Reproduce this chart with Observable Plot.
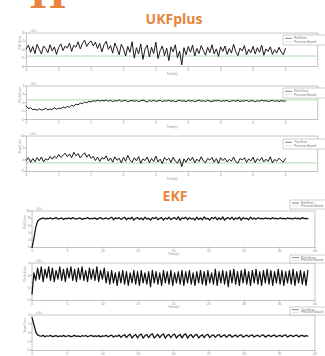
<!DOCTYPE html>
<html><head><meta charset="utf-8">
<script src="https://cdn.jsdelivr.net/npm/d3@7"></script>
<script src="https://cdn.jsdelivr.net/npm/@observablehq/plot@0.6"></script>
<style>
html,body{margin:0;padding:0;background:#fff;}
#wrap{position:relative;width:325px;height:356px;overflow:hidden;background:#fff;}
#wrap svg{position:absolute;left:0;}
</style></head><body>
<div id="wrap"></div>
<script>
// ---- data ----
const ukfXTicks = [0,0.5,1,1.5,2,2.5,3,3.5,4];
const ekfXTicks = [0,5,10,15,20,25,30,35,40];
const ukfRoll = [0.2,1.1,-0.6,0.8,-0.9,1.3,0.1,-1.0,0.9,0.3,-0.7,1.2,-0.3,0.7,-1.1,0.6,
1.4,-0.2,0.9,0.4,1.6,-0.4,1.1,0.6,1.9,0.2,1.5,2.3,0.8,1.7,2.1,
0.9,1.8,0.3,1.5,-0.5,1.2,2.0,0.1,1.0,-0.8,1.6,0.4,-1.2,1.3,0.2,
-1.5,0.8,-0.6,1.9,-2.0,0.5,-1.0,1.4,-2.3,0.2,1.1,-1.7,0.6,-0.9,1.8,-2.1,-0.2,0.9,-1.4,0.4,-2.6,0.7,-0.5,1.2,-1.9,-0.3,-3.6,
0.5,-1.2,0.8,-0.6,1.1,-1.5,0.3,-0.9,1.0,-0.2,-1.3,0.6,-0.7,1.2,-1.0,0.2,-1.6,0.7,-0.4,0.9,
-1.1,0.3,-0.8,1.3,-0.5,-1.4,0.4,-0.3,1.0,-1.2,0.1,-0.7,0.8,-1.0,0.5,-0.6,1.1,-1.3,0.2,-0.4,
0.7,-1.1,0.0,-0.8,0.6,-0.5,-1.2,0.3];
const ukfPitch = [-0.2,-0.35,-0.3,-0.42,-0.38,-0.45,-0.36,-0.44,-0.4,-0.33,-0.43,-0.37,-0.41,-0.3,-0.39,-0.32,-0.36,-0.25,-0.31,-0.22,-0.27,
-0.15,-0.2,-0.08,-0.12,-0.02,-0.06,0.04,0.0,0.08,0.05,0.12,0.09,0.15,0.1,0.14,
0.11,0.16,0.09,0.14,0.07,0.13,0.1,0.17,0.08,0.12,0.15,0.06,0.11,0.14,0.09,0.13,0.07,0.12,0.16,0.1,
0.05,0.13,0.09,0.15,0.08,0.11,0.14,0.07,0.12,0.1,0.16,0.08,0.13,0.06,0.11,0.15,0.09,0.12,0.07,0.14,
0.1,0.13,0.06,0.11,0.16,0.09,0.12,0.08,0.14,0.1,0.07,0.13,0.11,0.15,0.08,0.12,0.1,0.14,0.06,0.11,
0.13,0.09,0.15,0.07,0.12,0.1,0.14,0.08,0.11,0.13,0.06,0.12,0.09,0.15,0.1,0.13,0.07,0.11,0.14,0.09,
0.12,0.08,0.13,0.1,0.11];
const ukfYaw = [-0.3,0.8,-1.2,0.5,-0.9,0.9,-0.5,1.1,-1.0,0.4,-0.2,1.3,0.2,
1.5,0.6,2.2,0.9,1.8,2.7,1.2,2.4,0.8,3.1,1.6,2.5,0.7,1.9,2.9,1.0,2.2,0.5,
1.4,-0.4,1.1,-0.8,0.9,0.2,1.6,-0.6,0.7,-1.1,1.2,-0.3,0.6,-1.4,1.0,-0.7,1.8,-0.2,-1.2,0.8,
-0.5,1.3,-1.6,0.3,-0.4,1.1,-1.3,0.5,-0.8,1.5,-1.0,0.2,-1.7,0.9,-0.3,0.6,-1.2,1.0,-0.6,-1.5,0.4,-3.0,
0.3,-1.1,0.7,-0.5,1.0,-1.4,0.2,-0.8,1.2,-0.6,-1.3,0.5,-0.2,0.9,-1.1,0.4,-1.6,0.8,-0.4,0.6,
-1.0,0.1,-0.7,1.1,-0.9,-1.5,0.5,-0.2,0.8,-1.2,0.3,-0.6,1.0,-1.3,0.4,-0.5,0.9,-1.0,0.2,-0.8,
1.2,-1.4,0.1,-0.7,0.6,-0.3,-1.1,0.4];
const ukfBounds = [-1.5, 0.17, -1.4];
const ekfRoll = [0.0,2.5,5.5,7.2,7.7,7.9,8.1,7.8,8.0,7.9,
8.1,7.8,8.0,8.2,7.8,7.9,8.1,7.7,8.0,7.9,8.1,7.8,8.2,7.9,7.8,8.0,8.1,7.7,8.0,7.9,
8.2,7.8,8.0,7.9,8.1,7.7,8.0,8.2,7.8,7.9,8.1,7.8,8.0,8.3,7.6,8.1,7.9,8.2,7.7,8.0,
8.3,7.6,8.1,7.8,8.3,7.5,8.0,8.2,7.7,8.1,7.6,8.3,7.8,8.0,7.5,8.2,7.9,8.3,7.6,8.0,
8.2,7.5,8.1,7.8,8.3,7.6,8.0,8.2,7.7,8.4,7.5,8.1,7.9,8.3,7.6,8.2,7.8,8.0,7.5,8.3,
7.7,8.1,7.6,8.4,7.8,8.0,7.5,8.2,7.9,8.3,7.6,8.1,7.7,8.4,7.5,8.0,8.2,7.7,8.3,7.6,
8.1,7.8,8.3,7.5,8.2,7.9,8.0,7.6,8.3,7.8,8.1,7.7,8.2,7.9,8.0,7.8,8.1,7.9,8.0,7.8,
8.2,7.9,8.0,7.8,8.1,7.9,8.0,7.8,8.1,7.9,8.0,7.8,8.1,7.9,8.0,7.8,8.2,7.9,8.0,7.9];
const ekfPitch = [-1.5,0.2,-0.4,0.6,-0.3,0.7,-0.5,0.5,-0.2,0.7,
-0.4,0.6,-0.5,0.4,-0.3,0.7,-0.4,0.5,-0.5,0.6,-0.2,0.7,-0.4,0.5,-0.5,0.6,-0.3,0.7,-0.4,0.4,
-0.5,0.6,-0.3,0.5,-0.4,0.7,-0.5,0.4,-0.3,0.6,-0.6,0.3,-0.7,0.4,-0.6,0.2,-0.8,0.3,-0.6,0.4,
-0.7,0.3,-0.8,0.2,-0.6,0.4,-0.7,0.3,-0.8,0.4,-0.6,0.2,-0.7,0.3,-0.9,0.4,-0.6,0.3,-0.7,0.2,
-0.8,0.4,-0.6,0.3,-0.7,0.4,-0.8,0.2,-0.6,0.3,-0.7,0.4,-0.8,0.3,-0.6,0.4,-0.7,0.2,-0.8,0.3,
-0.6,0.4,-0.7,0.3,-0.8,0.4,-0.6,0.2,-0.7,0.5,-0.8,0.3,-0.6,0.4,-0.7,0.3,-0.9,0.4,-0.6,0.5,
-0.7,0.3,-0.8,0.4,-0.6,0.5,-0.7,0.3,-0.8,0.4,-0.6,0.5,-0.7,0.3,-0.8,0.4,-0.6,0.5,-0.7,0.4,
-0.8,0.3,-0.6,0.5,-0.7,0.4,-0.8,0.3,-0.6,0.4,-0.7,0.5,-0.8,0.3,-0.6,0.4,-0.7,0.3,-0.8,0.4];
const ekfYaw = [1.7,0.9,0.1,-0.25,-0.35,-0.4,-0.3,-0.45,-0.35,-0.4,
-0.3,-0.45,-0.38,-0.32,-0.46,-0.36,-0.42,-0.3,-0.44,-0.37,-0.33,-0.45,-0.38,-0.3,-0.43,-0.36,-0.46,-0.34,-0.4,-0.31,
-0.45,-0.37,-0.3,-0.44,-0.36,-0.42,-0.33,-0.47,-0.35,-0.4,-0.3,-0.46,-0.36,-0.28,-0.5,-0.34,-0.42,-0.26,-0.52,-0.35,
-0.22,-0.55,-0.3,-0.18,-0.6,-0.35,-0.2,-0.58,-0.28,-0.15,-0.62,-0.32,-0.2,-0.56,-0.25,-0.12,-0.6,-0.38,-0.18,-0.55,
-0.28,-0.14,-0.63,-0.3,-0.2,-0.57,-0.26,-0.16,-0.6,-0.34,-0.19,-0.58,-0.27,-0.13,-0.62,-0.33,-0.21,-0.55,-0.3,-0.17,
-0.6,-0.36,-0.22,-0.57,-0.28,-0.18,-0.55,-0.32,-0.24,-0.52,-0.3,-0.2,-0.5,-0.35,-0.25,-0.52,-0.33,-0.22,-0.5,-0.36,
-0.26,-0.48,-0.3,-0.24,-0.5,-0.37,-0.27,-0.46,-0.32,-0.25,-0.49,-0.35,-0.28,-0.47,-0.3,-0.24,-0.5,-0.36,-0.27,-0.45,
-0.33,-0.26,-0.48,-0.35,-0.29,-0.46,-0.31,-0.25,-0.49,-0.36,-0.28,-0.45,-0.33,-0.26,-0.47,-0.34,-0.29,-0.44,-0.32,-0.38];
const ukfLabels = ["Roll Error","Pitch Error","Yaw Error"];
const ekfLabels = ["Roll Error","Pitch Error","Yaw Error"];
const legendLabels = ["Error","Precision Bound"];

// ---- layout ----
const wrap = document.getElementById("wrap");
const W = 340;
const frameColor = "#a8a8a8", textColor = "#8a8a8a", lineColor = "#111", boundColor = "#9fd59f";

function panel({values, tEnd, xDomain, xTicks, yDomain, yTicks, left, right, top, bottom, bound, yLabel, exponent, lineWidth, showXLabel}) {
  const mt = 10, mb = 14;
  const rows = values.map((v, i) => ({t: i * tEnd / (values.length - 1), v}));
  const marks = [
    Plot.frame({stroke: frameColor, strokeWidth: 0.7}),
    Plot.axisX(xTicks, {tickSize: 1.5, tickPadding: 0.5, fontSize: 3.5, stroke: frameColor, fill: textColor, label: null}),
    Plot.axisY(yTicks, {tickSize: 1.5, tickPadding: 0.8, fontSize: 3.5, stroke: frameColor, fill: textColor, label: null}),
  ];
  if (bound !== null) marks.push(Plot.ruleY([bound], {stroke: boundColor, strokeWidth: 0.9}));
  marks.push(Plot.line(rows, {x: "t", y: "v", stroke: lineColor, strokeWidth: lineWidth}));
  if (showXLabel) marks.push(Plot.text(["Time(s)"], {frameAnchor: "bottom", dy: 8.5, fontSize: 3.5, fill: textColor}));
  marks.push(Plot.text([yLabel], {frameAnchor: "left", dx: -7, rotate: -90, fontSize: 3.5, fill: textColor}));
  marks.push(Plot.text([exponent], {frameAnchor: "top-left", dy: -3, dx: 4, fontSize: 3, fill: textColor}));
  const svg = Plot.plot({
    width: W, height: mt + (bottom - top) + mb,
    marginTop: mt, marginBottom: mb, marginLeft: left, marginRight: W - right,
    x: {domain: xDomain}, y: {domain: yDomain},
    style: {background: "transparent", overflow: "visible", fontFamily: "Liberation Sans"},
    marks
  });
  svg.style.top = (top - mt) + "px";
  wrap.appendChild(svg);
}

const ukfPanels = [
  {values: ukfRoll, yDomain: [-4, 4], yTicks: [-4,-2,0,2,4], top: 33, bottom: 68},
  {values: ukfPitch, yDomain: [-1, 1], yTicks: [-1,-0.5,0,0.5,1], top: 86, bottom: 121},
  {values: ukfYaw, yDomain: [-5, 10], yTicks: [-5,0,5,10], top: 136, bottom: 173},
];
ukfPanels.forEach((p, i) => panel({...p, tEnd: 4, xDomain: [0, 4.5], xTicks: ukfXTicks,
  left: 27, right: 332, bound: ukfBounds[i], yLabel: ukfLabels[i], exponent: "×10⁻³", lineWidth: 1.0, showXLabel: true}));

const ekfPanels = [
  {values: ekfRoll, yDomain: [0, 10], yTicks: [0,2,4,6,8,10], top: 211, bottom: 249},
  {values: ekfPitch, yDomain: [-2, 1], yTicks: [-2,-1,0,1], top: 263, bottom: 302},
  {values: ekfYaw, yDomain: [-2, 2], yTicks: [-2,-1,0,1,2], top: 315, bottom: 352},
];
ekfPanels.forEach((p, i) => panel({...p, tEnd: 39, xDomain: [0, 40], xTicks: ekfXTicks,
  left: 33, right: 329, bound: null, yLabel: ekfLabels[i], exponent: "×10⁻³", lineWidth: 1.3, showXLabel: i < 2}));

// ---- overlay: titles and legends ----
const ov = d3.select(wrap).append("svg").attr("width", 325).attr("height", 356).style("top", "0px");
ov.append("text").text("H").attr("x", 30).attr("y", 8)
  .attr("font-family", "Liberation Serif").attr("font-weight", 700).attr("font-size", 46).attr("fill", "#e8843c");
ov.append("text").text("UKFplus").attr("x", 174).attr("y", 24).attr("text-anchor", "middle")
  .attr("font-family", "Open Sans").attr("font-weight", 700).attr("font-size", 14).attr("fill", "#e8843c");
ov.append("text").text("EKF").attr("x", 175).attr("y", 201).attr("text-anchor", "middle")
  .attr("font-family", "Open Sans").attr("font-weight", 700).attr("font-size", 14).attr("fill", "#e8843c");

function legend(x, y, w, h, name) {
  const g = ov.append("g");
  g.append("rect").attr("x", x).attr("y", y).attr("width", w).attr("height", h)
    .attr("fill", "#fff").attr("stroke", "#a0a0a0").attr("stroke-width", 0.5);
  const labels = [name + " " + legendLabels[0], legendLabels[1]];
  [lineColor, boundColor].forEach((c, k) => {
    const yy = y + h * (k + 1) / 3;
    g.append("line").attr("x1", x + 2).attr("x2", x + 9).attr("y1", yy).attr("y2", yy).attr("stroke", c).attr("stroke-width", 0.5);
    g.append("text").text(labels[k]).attr("x", x + 11).attr("y", yy + 1).attr("font-size", 3)
      .attr("font-family", "Liberation Sans").attr("fill", "#777");
  });
}
legend(283, 35, 46, 10, "Roll");
legend(283, 88, 46, 10, "Pitch");
legend(283, 139, 46, 10, "Yaw");
legend(290, 200, 40, 9, "Roll");
legend(290, 255, 40, 8, "Pitch");
legend(290, 307, 40, 8, "Yaw");
</script>
</body></html>
